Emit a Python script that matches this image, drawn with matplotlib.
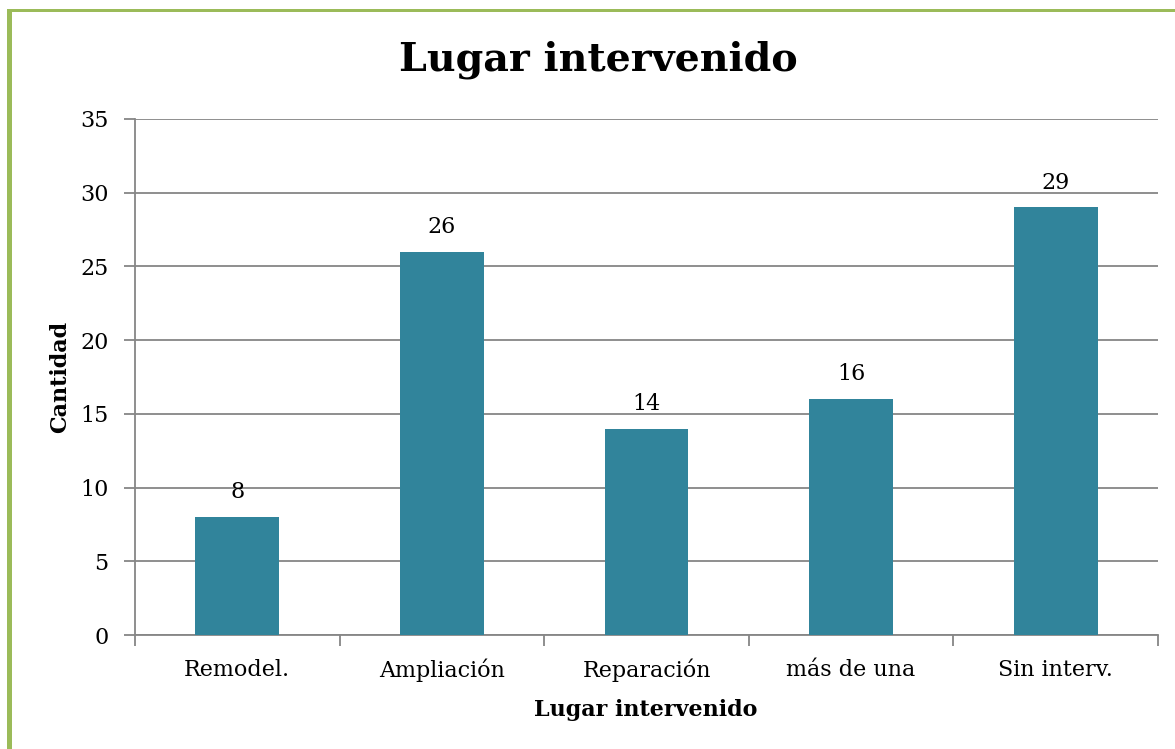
import matplotlib
matplotlib.use("Agg")
import matplotlib.pyplot as plt
from matplotlib.patches import Rectangle

categories = ["Remodel.", "Ampliación", "Reparación", "más de una", "Sin interv."]
values = [8, 26, 14, 16, 29]
yticks = [0, 5, 10, 15, 20, 25, 30, 35]

plt.rcParams['font.family'] = ['DejaVu Serif']

W, H = 1175, 749
fig = plt.figure(figsize=(W / 100, H / 100), dpi=100)
fig.patch.set_facecolor("white")

# green frame on the left and top edges
green = "#9BBB59"
fig.add_artist(Rectangle((7 / W, 0), 5 / W, 1 - 9 / H, transform=fig.transFigure,
                         facecolor=green, edgecolor="none"))
fig.add_artist(Rectangle((7 / W, 1 - 12 / H), 1, 3 / H, transform=fig.transFigure,
                         facecolor=green, edgecolor="none"))

left, right, bottom, top = 135, 1158, 635, 119
ax = fig.add_axes([left / W, 1 - bottom / H, (right - left) / W, (bottom - top) / H])

grey = "#868686"
x = list(range(len(categories)))
bars = ax.bar(x, values, width=0.41, color="#31849B", zorder=3)

ax.set_xlim(-0.5, len(categories) - 0.5)
ax.set_ylim(0, 35)
ax.set_yticks(yticks)
ax.set_yticklabels([str(t) for t in yticks], fontsize=16)
ax.yaxis.grid(True, color=grey, linewidth=1.3, zorder=0)
ax.set_axisbelow(True)

ax.set_xticks(x)
ax.set_xticklabels(categories, fontsize=16)
ax.tick_params(axis="x", length=0, pad=17)
# category boundary ticks
ax.set_xticks([i - 0.5 for i in range(len(categories) + 1)], minor=True)
ax.tick_params(axis="x", which="minor", length=8, color=grey, width=1.3)
ax.tick_params(axis="y", length=8, color=grey, width=1.3, pad=11)

for s in ["top", "right"]:
    ax.spines[s].set_visible(False)
for s in ["left", "bottom"]:
    ax.spines[s].set_color(grey)
    ax.spines[s].set_linewidth(1.3)

for xi, v in zip(x, values):
    ax.annotate(str(v), (xi, v), xytext=(0, 10), textcoords="offset points",
                ha="center", va="bottom", fontsize=16)

ax.set_ylabel("Cantidad", fontsize=16, fontweight="bold", va="center")
ax.yaxis.set_label_coords((60 - left) / (right - left), 0.5)
ax.set_xlabel("Lugar intervenido", fontsize=16, fontweight="bold", va="center")
ax.xaxis.set_label_coords(0.5, (bottom - 710) / (bottom - top))
ax.xaxis.label.set_x((646 - left) / (right - left))

fig.text(598 / W, 1 - 60 / H, "Lugar intervenido", ha="center", va="center",
         fontsize=28.5, fontweight="bold")

fig.savefig("out.png", dpi=100)
